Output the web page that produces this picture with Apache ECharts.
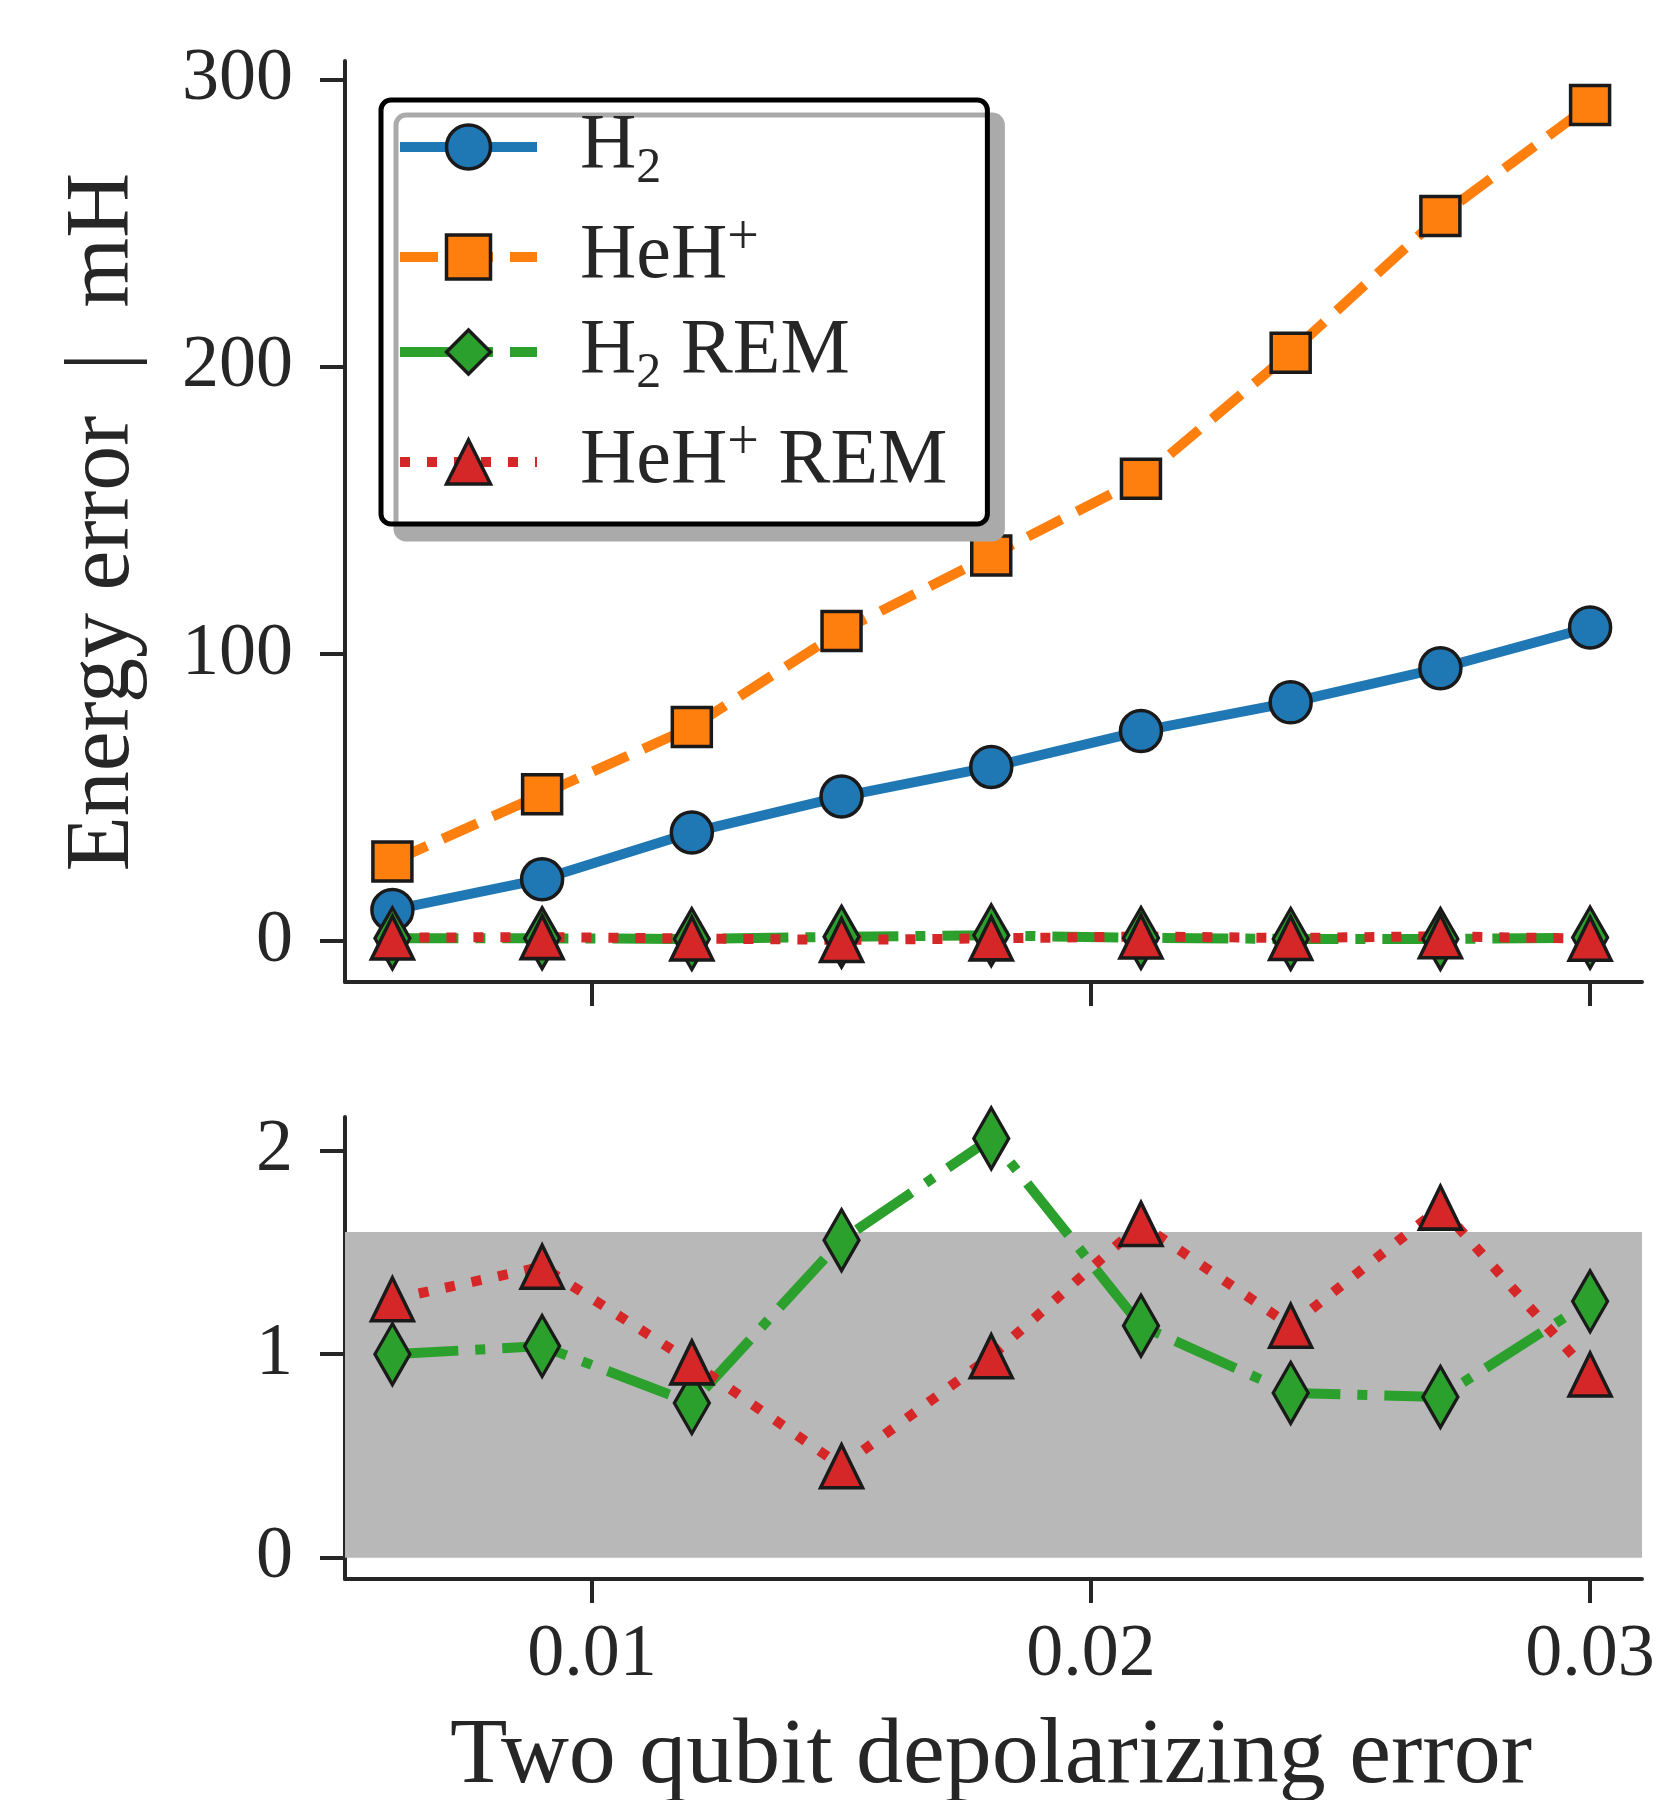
<!DOCTYPE html>
<html>
<head>
<meta charset="utf-8">
<script src="https://cdn.jsdelivr.net/npm/echarts@6/dist/echarts.min.js"></script>
<style>
  html, body { margin: 0; padding: 0; background: #fff; }
  #chart { width: 1666px; height: 1800px; }
</style>
</head>
<body>
<div id="chart"></div>
<script>
  // two qubit depolarizing error
  const errRates = [0.006, 0.009, 0.012, 0.015, 0.018, 0.021, 0.024, 0.027, 0.030]
  // energy error in mH
  const h2 = [10.9, 21.6, 37.9, 50.4, 60.7, 73.2, 83.2, 95.1, 109.3]
  const heh = [27.8, 51.2, 74.6, 108.1, 134.4, 161.1, 205.0, 252.6, 291.3]
  const h2Rem = [1.0, 1.04, 0.76, 1.56, 2.06, 1.14, 0.81, 0.79, 1.26]
  const hehRem = [1.27, 1.43, 0.96, 0.45, 0.99, 1.64, 1.14, 1.72, 0.9]
  // chemical accuracy band
  const chemAcc = [0, 1.6]
  const xTicks = [0.01, 0.02, 0.03]
  const yTicksTop = [0, 100, 200, 300]
  const yTicksBottom = [0, 1, 2]

  const X_MIN = 0.00505
  const X_MAX = 0.03104

  const FONT = 'Liberation Serif'
  const INK = '#262626'
  const EDGE = '#1a1a1a'

  const pairs = (vals) => errRates.map((x, i) => [x, vals[i]])

  function mkSeries(name, vals, color, symbol, size, dash, idx) {
    return {
      name: name,
      type: 'line',
      xAxisIndex: idx,
      yAxisIndex: idx,
      data: pairs(vals),
      symbol: symbol,
      symbolSize: size,
      lineStyle: { color: color, width: 10, type: dash, cap: 'butt' },
      itemStyle: { color: color, borderColor: EDGE, borderWidth: 3.5 },
      emphasis: { disabled: true },
      animation: false
    }
  }

  const dashed = [38, 17]
  const dashDot = [66, 17, 10, 17]
  const dotted = [10, 17]

  function xAxisOf(idx, showLabel) {
    return {
      type: 'value',
      gridIndex: idx,
      min: X_MIN,
      max: X_MAX,
      axisLine: { show: true, onZero: false, lineStyle: { color: INK, width: 4 } },
      axisTick: { show: true, length: 24, customValues: xTicks, lineStyle: { color: INK, width: 4 } },
      axisLabel: {
        show: showLabel,
        customValues: xTicks,
        margin: 40,
        color: INK,
        fontFamily: FONT,
        fontSize: 74,
        formatter: v => v.toFixed(2)
      },
      splitLine: { show: false }
    }
  }

  function yAxisOf(idx, min, max, ticks) {
    return {
      type: 'value',
      gridIndex: idx,
      min: min,
      max: max,
      axisLine: { show: true, onZero: false, lineStyle: { color: INK, width: 4 } },
      axisTick: { show: true, length: 25, customValues: ticks, lineStyle: { color: INK, width: 4 } },
      axisLabel: {
        customValues: ticks,
        margin: 52,
        color: INK,
        fontFamily: FONT,
        fontSize: 74,
        formatter: v => String(Math.round(v))
      },
      splitLine: { show: false }
    }
  }

  const legendNames = {
    'H2': '{b|H}{sub|2}',
    'HeH+': '{b|HeH}{sup|+}',
    'H2 REM': '{b|H}{sub|2}{b| REM}',
    'HeH+ REM': '{b|HeH}{sup|+}{b| REM}'
  }

  const chart = echarts.init(document.getElementById('chart'), null, { renderer: 'canvas' })

  const bandSeries = mkSeries('H2 REM', h2Rem, '#2ca02c', 'diamond', [35, 61], dashDot, 1)
  bandSeries.markArea = {
    silent: true,
    itemStyle: { color: '#b8b8b8' },
    data: [[{ xAxis: X_MIN, yAxis: chemAcc[0] }, { xAxis: X_MAX, yAxis: chemAcc[1] }]]
  }

  const option = {
    backgroundColor: '#fff',
    animation: false,
    grid: [
      { left: 345, right: 24, top: 61, height: 921 },
      { left: 345, right: 24, top: 1117, height: 462 }
    ],
    xAxis: [xAxisOf(0, false), xAxisOf(1, true)],
    yAxis: [
      yAxisOf(0, -14.2, 306.6, yTicksTop),
      yAxisOf(1, -0.104, 2.165, yTicksBottom)
    ],
    legend: {
      data: ['H2', 'HeH+', 'H2 REM', 'HeH+ REM'],
      orient: 'vertical',
      left: 381,
      top: 100,
      itemWidth: 137,
      itemHeight: 55,
      itemGap: 17,
      padding: [8, 40, 23, 14],
      backgroundColor: '#fff',
      borderColor: '#000',
      borderWidth: 5,
      borderRadius: 10,
      shadowBlur: 0,
      shadowColor: '#aaaaaa',
      shadowOffsetX: 15,
      shadowOffsetY: 15,
      selectedMode: false,
      itemStyle: { borderWidth: 3.5, borderColor: EDGE },
      lineStyle: { width: 10 },
      formatter: name => legendNames[name],
      textStyle: {
        padding: [0, 0, 0, 38],
        rich: {
          b: { fontFamily: FONT, fontSize: 78, lineHeight: 100, color: INK },
          sub: { fontFamily: FONT, fontSize: 50, color: INK, padding: [44, 0, 0, 0] },
          sup: { fontFamily: FONT, fontSize: 56, color: INK, padding: [0, 0, 36, 0] }
        }
      }
    },
    graphic: [
      {
        type: 'text',
        x: 104,
        y: 522,
        rotation: Math.PI / 2,
        style: {
          text: 'Energy error  |  mH',
          fontFamily: FONT,
          fontSize: 90,
          fill: INK,
          textAlign: 'center',
          textVerticalAlign: 'middle'
        }
      },
      {
        type: 'text',
        x: 991,
        y: 1757,
        style: {
          text: 'Two qubit depolarizing error',
          fontFamily: FONT,
          fontSize: 94,
          fill: INK,
          textAlign: 'center',
          textVerticalAlign: 'middle'
        }
      }
    ],
    series: [
      mkSeries('H2', h2, '#1f77b4', 'circle', 41, 'solid', 0),
      mkSeries('HeH+', heh, '#ff7f0e', 'rect', 39, dashed, 0),
      mkSeries('H2 REM', h2Rem, '#2ca02c', 'diamond', [35, 61], dashDot, 0),
      mkSeries('HeH+ REM', hehRem, '#d62728', 'triangle', [42, 43], dotted, 0),
      bandSeries,
      mkSeries('HeH+ REM', hehRem, '#d62728', 'triangle', [42, 43], dotted, 1)
    ]
  }

  chart.setOption(option)
</script>
</body>
</html>
